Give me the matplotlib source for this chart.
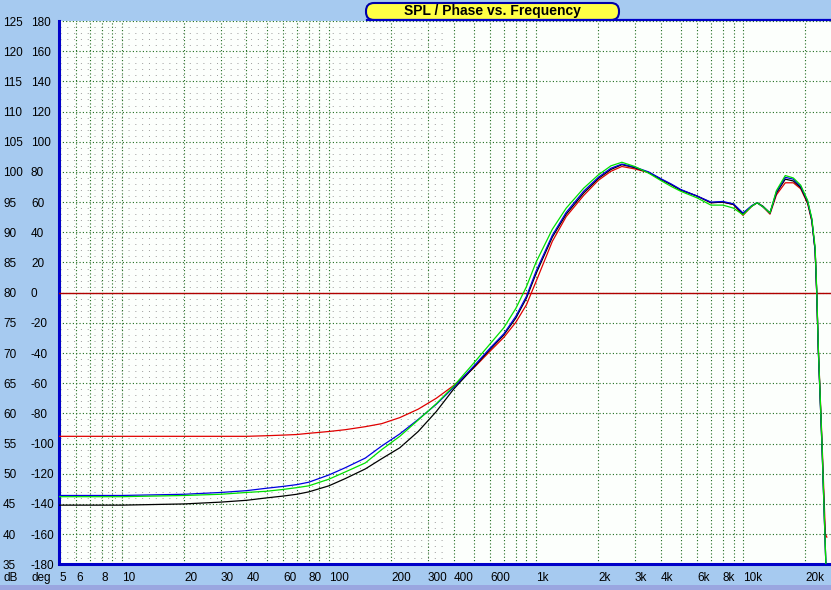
import numpy as np
import matplotlib
matplotlib.use('Agg')
import matplotlib.pyplot as plt
from matplotlib.ticker import LogLocator, NullFormatter
from matplotlib.patches import FancyBboxPatch, Rectangle
from matplotlib.lines import Line2D
from matplotlib.transforms import IdentityTransform

# --- data (Hz / dB) ---
freq_hz = [5, 10, 20, 30, 40, 50, 60, 70, 80, 100,
           120, 150, 180, 220, 270, 330, 400, 500, 600, 700,
           800, 900, 1000, 1200, 1400, 1700, 2000, 2300, 2600, 3000,
           3500, 4000, 4500, 5000, 6000, 7000, 8000, 9000, 10000, 11000,
           11700, 12500, 13500, 14500, 16000, 17500, 19000, 20500, 21500, 22300,
           22700, 23100, 24100, 25000, 25400]

spl_black = [44.8, 44.8, 45.0, 45.3, 45.6, 46.0, 46.3, 46.6, 47.0, 48.0,
             49.2, 50.8, 52.5, 54.3, 57.0, 60.3, 64.0, 67.6, 70.6, 73.0,
             75.8, 79.1, 83.1, 89.2, 93.0, 96.5, 98.9, 100.4, 101.2, 100.7,
             99.9, 98.8, 97.9, 97.0, 96.0, 94.9, 95.0, 94.6, 93.0, 94.3,
             94.9, 94.3, 93.2, 96.5, 98.8, 98.5, 97.4, 95.0, 92.0, 87.0,
             80.0, 70.6, 54.0, 37.4, 30.0]

spl_blue = [46.4, 46.4, 46.6, 46.9, 47.2, 47.6, 47.9, 48.2, 48.6, 49.8,
            51.0, 52.6, 54.6, 56.6, 59.0, 61.5, 64.3, 67.8, 70.8, 73.2,
            76.1, 79.4, 83.5, 89.5, 93.3, 96.8, 99.1, 100.6, 101.3, 100.8,
            100.0, 98.9, 98.0, 97.1, 96.0, 95.0, 95.1, 94.7, 93.2, 94.4,
            94.9, 94.2, 93.2, 96.7, 99.1, 98.8, 97.6, 95.2, 92.1, 87.0,
            80.0, 70.6, 54.0, 37.4, 30.0]

spl_green = [46.2, 46.2, 46.4, 46.6, 46.9, 47.1, 47.4, 47.7, 48.0, 49.1,
             50.3, 51.8, 54.0, 56.2, 58.9, 61.6, 64.5, 68.3, 71.5, 74.2,
             77.4, 81.0, 85.0, 90.5, 94.0, 97.3, 99.5, 101.0, 101.6, 100.9,
             99.8, 98.6, 97.6, 96.8, 95.7, 94.5, 94.5, 94.0, 92.9, 94.3,
             94.9, 94.2, 93.2, 96.9, 99.4, 99.0, 97.8, 95.3, 92.3, 87.5,
             80.5, 71.0, 54.5, 37.5, 30.0]

spl_red = [56.2, 56.2, 56.2, 56.2, 56.2, 56.3, 56.4, 56.5, 56.7, 57.0,
           57.3, 57.8, 58.3, 59.3, 60.7, 62.5, 64.6, 67.5, 70.3, 72.6,
           75.1, 78.0, 81.8, 88.5, 92.6, 96.1, 98.6, 100.1, 100.9, 100.5,
           99.9, 98.8, 97.9, 97.0, 96.0, 94.9, 95.0, 94.6, 92.8, 94.3,
           94.9, 94.2, 93.0, 96.2, 98.2, 98.2, 97.2, 94.8, 91.8, 87.0,
           80.0, 71.0, 55.0, 40.0, 39.5]

x_ticks = [5, 6, 8, 10, 20, 30, 40, 60, 80, 100, 200, 300, 400, 600,
           1000, 2000, 3000, 4000, 6000, 8000, 10000, 20000]
x_labels = ['5', '6', '8', '10', '20', '30', '40', '60', '80', '100', '200',
            '300', '400', '600', '1k', '2k', '3k', '4k', '6k', '8k', '10k', '20k']
db_ticks = list(range(35, 126, 5))
deg_ticks = list(range(-180, 181, 20))

plt.rcParams['font.family'] = ['Liberation Sans', 'DejaVu Sans']
plt.rcParams['font.size'] = 8.5

W, H = 831, 590
fig = plt.figure(figsize=(W / 100, H / 100), dpi=100)
fig.patch.set_facecolor('#A6CAF0')

top_px, bot_px, left_px = 21.0, 564.3, 59.5
ax = fig.add_axes([left_px / W, (H - bot_px) / H, 1.0 - left_px / W, (bot_px - top_px) / H])
ax.set_facecolor('#FCFFFC')
ax.set_xscale('log')
ax.set_xlim(5, 10 ** 4.425)
ax.set_ylim(35, 125)

gridc = '#1E6B1E'
dots = (0, (1, 2))

# fine dot matrix on the low end
rows = [d for d in range(36, 125) if d % 5]
ax.hlines(rows, 5, 360, colors='#9A9A9A', linestyles=[(0, (1, 6))], lw=0.7, zorder=1)

ax.set_yticks(db_ticks)
ax.set_yticklabels([str(v) for v in db_ticks], ha='left')
ax.tick_params(axis='y', length=0, pad=(left_px - 3) * 0.72)

ax.set_xticks(x_ticks)
ax.set_xticklabels(x_labels, ha='left')
ax.xaxis.set_minor_locator(LogLocator(base=10, subs=np.arange(1, 10), numticks=30))
ax.xaxis.set_minor_formatter(NullFormatter())
ax.tick_params(axis='x', which='both', length=0, pad=5.5)

ax.grid(True, which='major', axis='y', color=gridc, ls=dots, lw=0.8, zorder=2)
ax.grid(True, which='both', axis='x', color=gridc, ls=dots, lw=0.8, zorder=2)
ax.set_axisbelow(True)

sec = ax.secondary_yaxis('left', functions=(lambda d: (d - 80) * 4, lambda p: p / 4 + 80))
sec.set_yticks(deg_ticks)
sec.set_yticklabels([str(v) for v in deg_ticks], ha='left')
sec.tick_params(length=0, pad=(left_px - 31) * 0.72)
sec.spines['left'].set_visible(False)

for side in ['top', 'right']:
    ax.spines[side].set_visible(False)
for side in ['left', 'bottom']:
    ax.spines[side].set_color('#0000C8')
    ax.spines[side].set_linewidth(2.2)

# 0 deg reference line
ax.axhline(80, color='#B00000', lw=1.0, zorder=3)

ax.plot(freq_hz, spl_red, color='#E00000', lw=0.9, zorder=4)
ax.plot(freq_hz, spl_black, color='black', lw=0.9, zorder=4)
ax.plot(freq_hz, spl_blue, color='#0000E0', lw=0.9, zorder=4)
ax.plot(freq_hz, spl_green, color='#00E000', lw=0.9, zorder=5)

# top border and title badge
fig.add_artist(Line2D([367, W], [H - 19.5, H - 19.5], transform=IdentityTransform(),
                      color='#0000C8', lw=1.6))
badge = FancyBboxPatch((366, H - 20), 253, 17, boxstyle='round,pad=0,rounding_size=8',
                       transform=IdentityTransform(), facecolor='#FFFF44',
                       edgecolor='#0000A8', lw=1.5)
fig.add_artist(badge)
fig.text(492.5 / W, (H - 11.5) / H, 'SPL / Phase vs. Frequency', ha='center', va='center',
         fontsize=10, fontweight='bold')

fig.text(3 / W, (H - 578) / H, 'dB', ha='left', va='center')
fig.text(31 / W, (H - 578) / H, 'deg', ha='left', va='center')

fig.add_artist(Rectangle((0, 0), W, 5, transform=IdentityTransform(),
                         facecolor='#9AA6E0', edgecolor='none'))

fig.savefig('out.png', dpi=100)
